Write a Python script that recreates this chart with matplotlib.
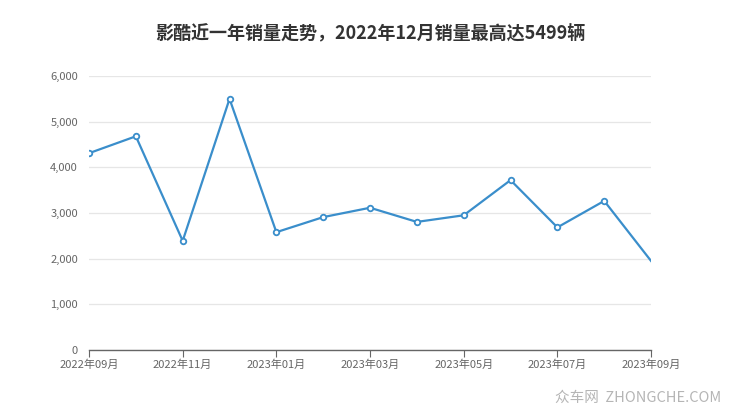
import matplotlib.pyplot as plt
from matplotlib.ticker import FuncFormatter

plt.rcParams['font.family'] = ['Noto Sans CJK SC', 'DejaVu Sans']

# 月份与销量
months = ['2022年09月', '2022年10月', '2022年11月', '2022年12月', '2023年01月',
          '2023年02月', '2023年03月', '2023年04月', '2023年05月', '2023年06月',
          '2023年07月', '2023年08月', '2023年09月']
sales = [4310, 4680, 2390, 5499, 2580, 2910, 3115, 2805, 2950, 3720, 2685, 3265, 1950]
yticks = [0, 1000, 2000, 3000, 4000, 5000, 6000]

line_color = '#3a8ecb'

fig = plt.figure(figsize=(7.4, 4.17), dpi=100)
ax = fig.add_axes([0.1203, 0.1607, 0.7595, 0.657])

x = list(range(len(months)))
# 最后一个点在边上，原图没有标记
ax.plot(x, sales, color=line_color, linewidth=1.6, marker='o', markersize=4,
        markerfacecolor='white', markeredgecolor=line_color, markeredgewidth=1.3,
        markevery=list(range(len(months) - 1)), zorder=3)

ax.set_xlim(0, len(months) - 1)
ax.set_ylim(0, 6000)
ax.set_yticks(yticks)
ax.yaxis.set_major_formatter(FuncFormatter(lambda v, p: '{:,.0f}'.format(v)))
ax.set_xticks(x[::2])
ax.set_xticklabels(months[::2])

ax.grid(axis='y', color='#e6e6e6', linewidth=0.9)
ax.set_axisbelow(True)
for s in ['top', 'right', 'left']:
    ax.spines[s].set_visible(False)
ax.spines['bottom'].set_color('#666666')
ax.spines['bottom'].set_linewidth(1.0)
ax.tick_params(axis='y', length=0, pad=8, labelsize=8, labelcolor='#666666')
ax.tick_params(axis='x', length=5, color='#666666', pad=2, labelsize=8,
               labelcolor='#666666')

fig.text(0.5, 0.92, '影酷近一年销量走势，2022年12月销量最高达5499辆',
         ha='center', va='center', fontsize=13, fontweight='bold', color='#333333')
fig.text(0.975, 0.045, '众车网  ZHONGCHE.COM', ha='right', va='center',
         fontsize=10.5, color='#b5b5b5')

plt.savefig('out.png', dpi=100)
